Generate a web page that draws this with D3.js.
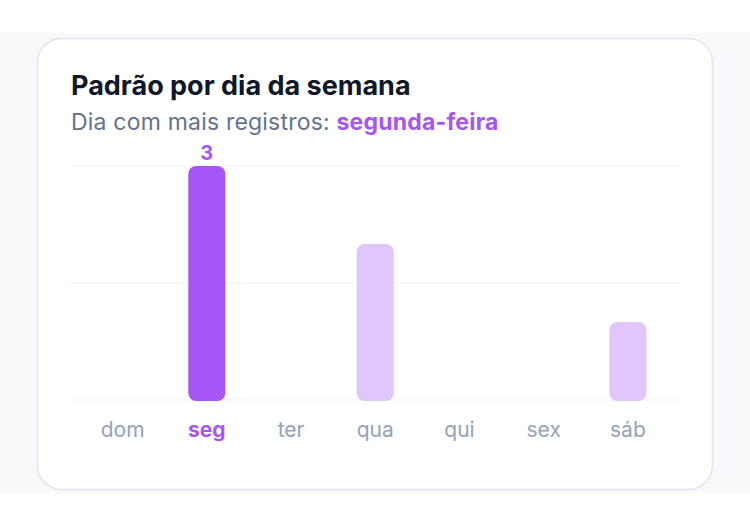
<!DOCTYPE html>
<html>
<head>
<meta charset="utf-8">
<title>Padrão por dia da semana</title>
<script src="https://cdn.jsdelivr.net/npm/d3@7"></script>
<style>
  html, body { margin: 0; padding: 0; background: #ffffff; }
  body { width: 750px; height: 528px; overflow: hidden; font-family: Inter, "Noto Sans", sans-serif; }
</style>
</head>
<body>
<script type="text/javascript">
	// data
	var days    = ["dom", "seg", "ter", "qua", "qui", "sex", "sáb"];
	var counts  = [0, 3, 0, 2, 0, 0, 1];
	var gridVals = [0, 1.5, 3];
	var topDayName = "segunda-feira";

	var width  = 750;
	var height = 528;

	var purple      = "#a855f7";
	var purpleLight = "#e1c6fc";

	var svg = d3.select("body").append("svg")
		.attr("width", width)
		.attr("height", height);

	// page band + card
	svg.append("rect").attr("x", 0).attr("y", 33).attr("width", width).attr("height", 460).attr("fill", "#f8f9fb");
	svg.append("rect")
		.attr("x", 37.5).attr("y", 38.5).attr("width", 675).attr("height", 451)
		.attr("rx", 24).attr("ry", 24)
		.attr("fill", "#ffffff").attr("stroke", "#e3e4ee").attr("stroke-width", 1.5);

	// title
	svg.append("text")
		.attr("x", 71).attr("y", 95)
		.attr("font-size", 27).attr("font-weight", 700).attr("fill", "#0f172a")
		.text("Padrão por dia da semana");

	var sub = svg.append("text")
		.attr("x", 71).attr("y", 130)
		.attr("font-size", 23).attr("letter-spacing", 0.2).attr("fill", "#64748b");
	sub.append("tspan").text("Dia com mais registros: ");
	sub.append("tspan").attr("font-weight", 700).attr("fill", purple).text(topDayName);

	// scales
	var xScale = d3.scaleBand().domain(days).range([80.5, 670]).paddingInner(0.56).paddingOuter(0.28);
	var yScale = d3.scaleLinear().domain([0, d3.max(counts)]).range([400, 166]);
	var maxVal = d3.max(counts);

	// grid
	svg.append("g").selectAll("line").data(gridVals).enter().append("line")
		.attr("x1", 70).attr("x2", 680)
		.attr("y1", d => yScale(d)).attr("y2", d => yScale(d))
		.attr("stroke", "#f1f2f6").attr("stroke-width", 1.2);

	// bars
	var data = days.map((d, i) => ({ day: d, value: counts[i] }));
	svg.append("g").selectAll("rect").data(data.filter(d => d.value > 0)).enter().append("rect")
		.attr("x", d => xScale(d.day))
		.attr("y", d => yScale(d.value))
		.attr("width", xScale.bandwidth())
		.attr("height", d => yScale(0) - yScale(d.value) + 1)
		.attr("rx", 8).attr("ry", 8)
		.attr("fill", d => d.value === maxVal ? purple : purpleLight);

	// value label on top bar
	svg.append("g").selectAll("text").data(data.filter(d => d.value === maxVal)).enter().append("text")
		.attr("x", d => xScale(d.day) + xScale.bandwidth() / 2)
		.attr("y", d => yScale(d.value) - 6)
		.attr("text-anchor", "middle")
		.attr("font-size", 20).attr("font-weight", 700).attr("fill", purple)
		.text(d => d.value);

	// x axis labels
	var xAxis = d3.axisBottom(xScale).tickSize(0).tickPadding(0);
	var ax = svg.append("g").attr("transform", "translate(0,422)").call(xAxis);
	ax.select(".domain").remove();
	ax.selectAll("text")
		.attr("dy", "0.71em")
		.attr("font-family", "Inter, 'Noto Sans', sans-serif")
		.attr("font-size", 21)
		.attr("fill", d => counts[days.indexOf(d)] === maxVal ? purple : "#94a3b8")
		.attr("font-weight", d => counts[days.indexOf(d)] === maxVal ? 700 : 400);
</script>
</body>
</html>
